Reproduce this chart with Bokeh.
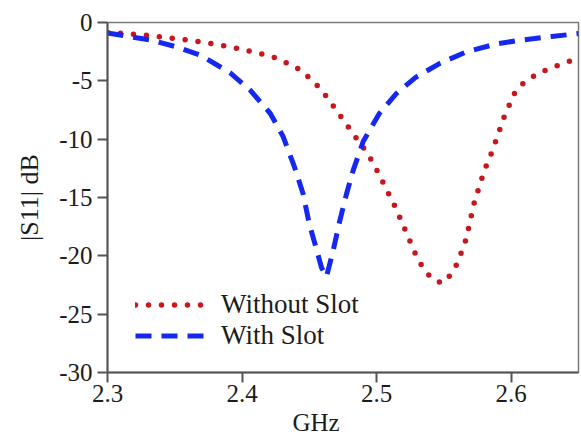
from bokeh.plotting import figure
from bokeh.models import FixedTicker, Range1d, Legend, LegendItem, Title
from bokeh.embed import file_html
from bokeh.resources import INLINE

# ---- data ----
freq_without = [2.300, 2.330, 2.359, 2.380, 2.3985, 2.415, 2.427, 2.444, 2.4585, 2.470,
                2.481, 2.490, 2.4973, 2.506, 2.5146, 2.522, 2.5294, 2.5343, 2.5405, 2.5486,
                2.5553, 2.5602, 2.5664, 2.5726, 2.580, 2.586, 2.595, 2.6035, 2.610, 2.618,
                2.627, 2.644, 2.650]
s11_without = [-0.85, -1.1, -1.5, -1.85, -2.26, -2.7, -3.1, -4.1, -5.7, -7.5,
               -9.3, -10.7, -12.0, -14.0, -16.0, -18.0, -20.0, -21.0, -21.9, -22.35,
               -21.6, -20.6, -18.6, -15.4, -12.7, -11.0, -8.0, -5.8, -5.1, -4.5,
               -4.0, -3.3, -3.1]

freq_with = [2.300, 2.332, 2.350, 2.369, 2.391, 2.406, 2.421, 2.4306, 2.439, 2.4454,
             2.450, 2.455, 2.459, 2.4627, 2.4676, 2.4726, 2.4776, 2.4825, 2.490, 2.502,
             2.5146, 2.529, 2.547, 2.566, 2.589, 2.608, 2.630, 2.650]
s11_with = [-0.9, -1.5, -2.05, -2.8, -4.3, -5.8, -7.8, -9.8, -12.4, -14.7,
            -17.3, -19.3, -21.0, -21.8, -19.6, -17.0, -14.7, -12.7, -10.2, -7.8,
            -6.1, -4.7, -3.5, -2.55, -1.83, -1.5, -1.2, -0.95]

x_ticks = [2.3, 2.4, 2.5, 2.6]
y_ticks = [0, -5, -10, -15, -20, -25, -30]
y_tick_labels = {t: str(t) for t in y_ticks}

labels = ["Without Slot", "With Slot"]
x_title = "GHz"
y_title = "|S11| dB"

FONT = "Liberation Serif"
TXT = "#1c1c1c"
RED = "#c8161e"
BLUE = "#1428f0"

p = figure(width=580, height=439, output_backend="svg", toolbar_location=None,
           x_range=Range1d(2.3, 2.65), y_range=Range1d(-30, 0),
           min_border_left=107, min_border_right=2, min_border_top=22, min_border_bottom=67)

p.grid.visible = False
p.outline_line_color = "#7a7a7a"
p.outline_line_width = 1.5
p.background_fill_color = "white"
p.border_fill_color = "white"

r1 = p.line(freq_without, s11_without, line_color=RED, line_width=5.5,
            line_dash="0 13", line_cap="round")
r2 = p.line(freq_with, s11_with, line_color=BLUE, line_width=5,
            line_dash="16 10")

p.xaxis.ticker = FixedTicker(ticks=x_ticks)
p.yaxis.ticker = FixedTicker(ticks=y_ticks)
p.yaxis.major_label_overrides = y_tick_labels

for ax in (p.xaxis[0], p.yaxis[0]):
    ax.axis_line_color = "#555555"
    ax.axis_line_width = 2
    ax.major_tick_line_color = "#555555"
    ax.major_tick_line_width = 2
    ax.major_tick_out = 10
    ax.major_tick_in = 0
    ax.minor_tick_line_color = None
    ax.major_label_text_font = FONT
    ax.major_label_text_font_size = "25px"
    ax.major_label_text_color = TXT

p.xaxis.major_label_standoff = 2
p.yaxis.major_label_standoff = 5
p.yaxis.axis_label = y_title
p.yaxis.axis_label_text_font = FONT
p.yaxis.axis_label_text_font_size = "26px"
p.yaxis.axis_label_text_font_style = "normal"
p.yaxis.axis_label_text_color = TXT
p.yaxis.axis_label_standoff = 12

p.add_layout(Title(text=x_title, align="left", offset=185, standoff=5,
                   text_font=FONT, text_font_size="25px", text_font_style="normal",
                   text_color=TXT), "below")

legend = Legend(items=[LegendItem(label=labels[0], renderers=[r1]),
                       LegendItem(label=labels[1], renderers=[r2])],
                location=(28, 21), padding=0, margin=0, spacing=0,
                glyph_width=73, glyph_height=31, label_standoff=13,
                label_text_font=FONT, label_text_font_size="27px",
                label_text_color=TXT, border_line_color=None,
                background_fill_alpha=0)
p.add_layout(legend)

open("out.html", "w").write(file_html(p, INLINE))
